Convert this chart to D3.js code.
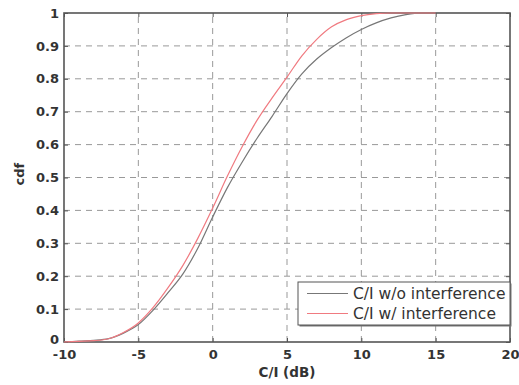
<!DOCTYPE html>
<html lang="en">
<head>
    <meta charset="UTF-8">
    <title>cdf-ci</title>
    <script src="https://cdn.jsdelivr.net/npm/d3@7"></script>
    <style>
        body { margin: 0; background: #fff; }
        text { font-family: "DejaVu Sans", Arial, sans-serif; fill: #333; }
    </style>
</head>
<body>
    <svg class="chart"></svg>
</body>
<script>
    // data
    var ciValues = [-10, -9, -8, -7, -6, -5, -4, -3, -2, -1, 0, 1, 2, 3, 4, 5, 6, 7, 8, 9, 10, 11, 12, 13, 14, 15];
    var cdfNoInterf = [0, 0.003, 0.005, 0.01, 0.027, 0.053, 0.097, 0.15, 0.207, 0.285, 0.38, 0.47, 0.548, 0.62, 0.686, 0.755, 0.815, 0.86, 0.895, 0.925, 0.95, 0.97, 0.985, 0.995, 1, 1];
    var cdfInterf = [0, 0.002, 0.004, 0.01, 0.029, 0.058, 0.105, 0.165, 0.233, 0.315, 0.407, 0.505, 0.595, 0.675, 0.742, 0.805, 0.87, 0.92, 0.958, 0.98, 0.992, 0.998, 1, 1, 1, 1];
    var xTicks = [-10, -5, 0, 5, 10, 15, 20];
    var yTicks = [0, 0.1, 0.2, 0.3, 0.4, 0.5, 0.6, 0.7, 0.8, 0.9, 1];
    var seriesNames = ['C/I w/o interference', 'C/I w/ interference'];

    var width = 519, height = 385;
    var margin = {left: 64, top: 13, right: 9, bottom: 43};

    var svg = d3.select('.chart')
        .attr('width', width)
        .attr('height', height);

    var x = d3.scaleLinear().domain([-10, 20]).range([margin.left, width - margin.right]);
    var y = d3.scaleLinear().domain([0, 1]).range([height - margin.bottom, margin.top]);

    // grid
    svg.append('g').selectAll('line')
        .data(xTicks.slice(1, -1))
        .enter().append('line')
        .attr('x1', function (d) { return x(d); })
        .attr('x2', function (d) { return x(d); })
        .attr('y1', y(0)).attr('y2', y(1))
        .attr('stroke', '#999').attr('stroke-dasharray', '6,5');
    svg.append('g').selectAll('line')
        .data(yTicks.slice(1, -1))
        .enter().append('line')
        .attr('y1', function (d) { return y(d); })
        .attr('y2', function (d) { return y(d); })
        .attr('x1', x(-10)).attr('x2', x(20))
        .attr('stroke', '#999').attr('stroke-dasharray', '6,5');

    // axes
    var xAxis = svg.append('g')
        .attr('transform', 'translate(0,' + y(0) + ')')
        .call(d3.axisBottom(x).tickValues(xTicks).tickSize(-4).tickPadding(7.5).tickFormat(function (d) { return String(d); }));
    var yAxis = svg.append('g')
        .attr('transform', 'translate(' + x(-10) + ',0)')
        .call(d3.axisLeft(y).tickValues(yTicks).tickSize(-4).tickPadding(5).tickFormat(function (d) {
            return d === 0 || d === 1 ? String(d) : d3.format('.1f')(d);
        }));
    var xTop = svg.append('g')
        .attr('transform', 'translate(0,' + y(1) + ')')
        .call(d3.axisTop(x).tickValues(xTicks).tickSize(-4).tickFormat(''));
    var yRight = svg.append('g')
        .attr('transform', 'translate(' + x(20) + ',0)')
        .call(d3.axisRight(y).tickValues(yTicks).tickSize(-4).tickFormat(''));
    [xAxis, yAxis, xTop, yRight].forEach(function (a) {
        a.select('.domain').remove();
        a.selectAll('line').attr('stroke', '#555');
        a.selectAll('text').attr('font-size', 13).attr('font-weight', 'bold').attr('fill', '#333')
            .attr('font-family', '"DejaVu Sans", Arial, sans-serif');
    });
    // lift the "0" label a little off the "-10" below it
    yAxis.selectAll('.tick text').filter(function (d) { return d === 0; }).attr('dy', '0.15em');

    // box
    svg.append('rect')
        .attr('x', x(-10)).attr('y', y(1))
        .attr('width', x(20) - x(-10)).attr('height', y(0) - y(1))
        .attr('fill', 'none').attr('stroke', '#555').attr('stroke-width', 1.6);

    // lines
    var line = d3.line()
        .x(function (d) { return x(d[0]); })
        .y(function (d) { return y(d[1]); })
        .curve(d3.curveMonotoneX);
    svg.append('path')
        .datum(d3.zip(ciValues, cdfNoInterf))
        .attr('d', line).attr('fill', 'none').attr('stroke', '#777').attr('stroke-width', 1.2);
    svg.append('path')
        .datum(d3.zip(ciValues, cdfInterf))
        .attr('d', line).attr('fill', 'none').attr('stroke', '#f07a80').attr('stroke-width', 1.2);

    // labels
    svg.append('text')
        .attr('x', x(5)).attr('y', 377)
        .attr('text-anchor', 'middle').attr('font-size', 13.5).attr('font-weight', 'bold')
        .text('C/I (dB)');
    svg.append('text')
        .attr('transform', 'translate(24,' + y(0.51) + ') rotate(-90)')
        .attr('text-anchor', 'middle').attr('font-size', 13).attr('font-weight', 'bold')
        .text('cdf');

    // legend
    var lg = svg.append('g').attr('transform', 'translate(298,282)');
    lg.append('rect').attr('x', 1.5).attr('y', 1.5).attr('width', 212).attr('height', 43).attr('fill', '#777');
    lg.append('rect').attr('width', 212).attr('height', 43).attr('fill', '#fff').attr('stroke', '#555');
    var colors = ['#777', '#f07a80'];
    seriesNames.forEach(function (s, i) {
        lg.append('line')
            .attr('x1', 9).attr('x2', 50)
            .attr('y1', 11.5 + i * 20).attr('y2', 11.5 + i * 20)
            .attr('stroke', colors[i]).attr('stroke-width', 1.2);
        lg.append('text')
            .attr('x', 55).attr('y', 17 + i * 20)
            .attr('font-size', 15.5).attr('fill', '#222')
            .text(s);
    });
</script>
</html>
